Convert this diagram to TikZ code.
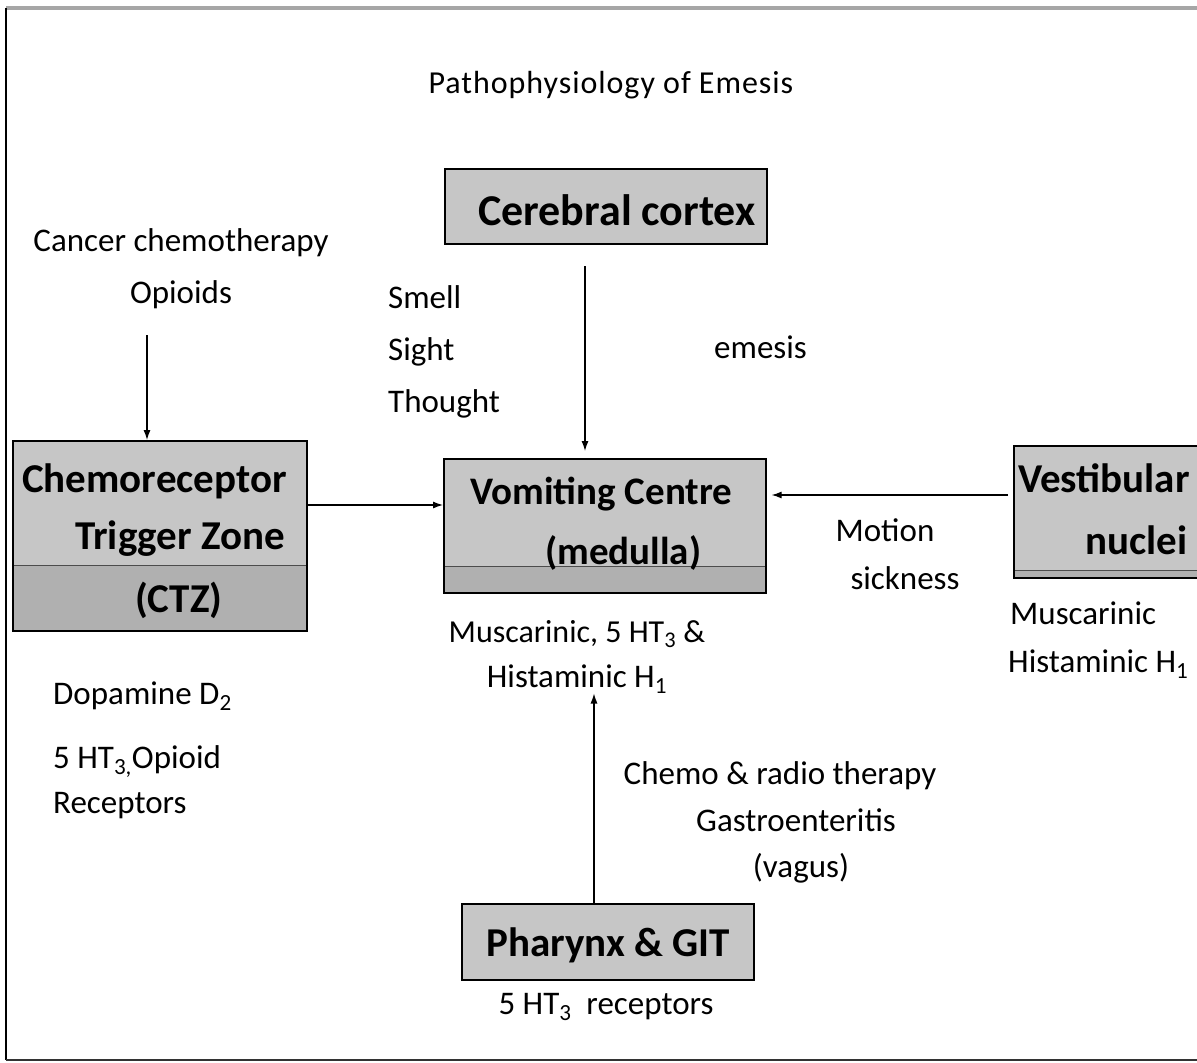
\documentclass[tikz,border=0pt]{standalone}
\usepackage{fontspec}
\setmainfont{Carlito}
\usetikzlibrary{arrows.meta}
\begin{document}
\begin{tikzpicture}[x=1pt,y=-1pt,
  box/.style={draw=black, line width=1.6pt, fill=gray!45, anchor=north west, inner sep=0pt},
  band/.style={path picture={\fill[gray!62] (path picture bounding box.south west) rectangle ([yshift=#1]path picture bounding box.south east);
     \draw[black!70, line width=0.8pt] ([yshift=#1]path picture bounding box.south west) -- ([yshift=#1]path picture bounding box.south east);}},
  lbl/.style={font=\fontsize{33}{39}\selectfont, inner sep=0pt, anchor=base},
  lbll/.style={lbl, anchor=base west},
  btxt/.style={font=\fontsize{41}{49}\selectfont\bfseries, inner sep=0pt, anchor=base west},
  arr/.style={-{Latex[length=10pt,width=7pt]}, line width=1.2pt}]
\useasboundingbox (0,0) rectangle (1197,1063);
\clip (0,0) rectangle (1197,1063);
\fill[white] (0,0) rectangle (1197,1063);
% frame
\draw[gray!70, line width=4pt] (6,8) -- (1197,8);
\draw[black, line width=1.6pt] (6,8) -- (6,1060);
\draw[black!80, line width=2.5pt] (6,1060) -- (1197,1060);

% title
\node[lbl, font=\fontsize{32}{38}\selectfont\addfontfeature{LetterSpace=3}] (title) at (611,93) {Pathophysiology of Emesis};

% boxes
\node[box, minimum width=322pt, minimum height=75pt] (cc) at (444,168) {};
\node[box, band=65pt, minimum width=294pt, minimum height=190pt] (ctz) at (12,440) {};
\node[box, band=26pt, minimum width=322pt, minimum height=134pt] (vc) at (443,458) {};
\node[box, band=7pt, minimum width=200pt, minimum height=132pt] (ves) at (1013,445) {};
\node[box, minimum width=292pt, minimum height=76pt] (ph) at (461,903) {};

% box texts
\node[btxt, anchor=base, font=\fontsize{44}{50}\selectfont\bfseries] (cct) at (617,225) {Cerebral cortex};
\node[btxt] (ctz1) at (22,492) {Chemoreceptor};
\node[btxt] (ctz2) at (75,549) {Trigger Zone};
\node[btxt] (ctz3) at (135,612) {(CTZ)};
\node[btxt, font=\fontsize{39}{47}\selectfont\bfseries] (vc1) at (470,504) {Vomiting Centre};
\node[btxt, font=\fontsize{39}{47}\selectfont\bfseries] (vc2) at (545,564) {(medulla)};
\node[btxt] (ves1) at (1018,492) {Vestibular};
\node[btxt] (ves2) at (1085,554) {nuclei};
\node[btxt, anchor=base] (pht) at (608,956) {Pharynx \& GIT};

% labels
\node[lbl] (cancer) at (181,251) {Cancer chemotherapy};
\node[lbl] (op) at (181,303) {Opioids};
\node[lbll] (smell) at (388,308) {Smell};
\node[lbll] (sight) at (388,360) {Sight};
\node[lbll] (thought) at (388,412) {Thought};
\node[lbll] (emesis) at (714,358) {emesis};
\node[lbl, font=\fontsize{32}{38}\selectfont] (vcr1) at (577,642) {Muscarinic, 5 HT\textsubscript{3} \&};
\node[lbl] (vcr2) at (577,687) {Histaminic H\textsubscript{1}};
\node[lbl] (mot1) at (885,541) {Motion};
\node[lbl] (mot2) at (905,589) {sickness};
\node[lbll] (vr1) at (1010,624) {Muscarinic};
\node[lbll] (vr2) at (1008,672) {Histaminic H\textsubscript{1}};
\node[lbll] (d1) at (53,704) {Dopamine D\textsubscript{2}};
\node[lbll] (d2) at (53,768) {5 HT\textsubscript{3,}Opioid};
\node[lbll] (d3) at (53,813) {Receptors};
\node[lbl] (ch1) at (780,784) {Chemo \& radio therapy};
\node[lbl] (ch2) at (796,831) {Gastroenteritis};
\node[lbl] (ch3) at (801,877) {(vagus)};
\node[lbl] (phr) at (606,1014) {5 HT\textsubscript{3}\ \ receptors};

% connectors
\coordinate (a1) at (147,335);
\draw[arr] (a1) -- (a1 |- ctz.north);
\coordinate (a2) at (585,266);
\draw[arr, shorten >=7pt] (a2) -- (a2 |- vc.north);
\coordinate (a3) at (306,505);
\draw[arr] (a3) -- (a3 -| vc.west);
\coordinate (a4) at (1008,495);
\draw[arr, shorten >=5pt] (a4) -- (a4 -| vc.east);
\coordinate (a5) at (594,700);
\draw[arr] (a5 |- ph.north) -- (a5 |- vcr2.south);
\end{tikzpicture}
\end{document}
